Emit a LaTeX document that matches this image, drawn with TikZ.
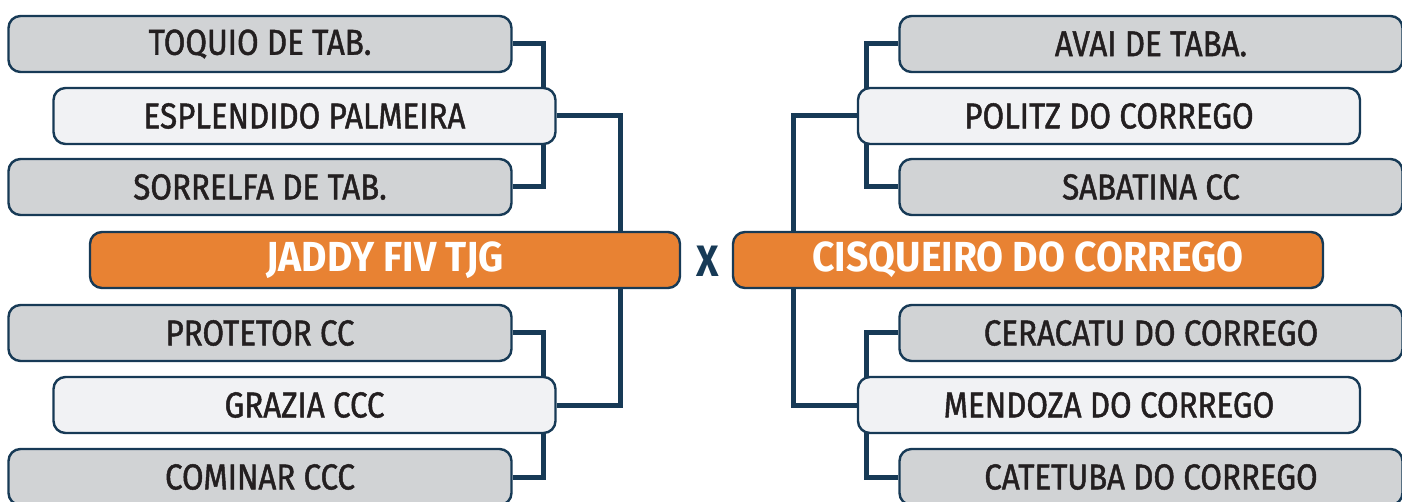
\documentclass[tikz,border=0pt]{standalone}
\usepackage{fontspec}
\setmainfont{Fira Sans}[FakeStretch=0.88]
\newfontfamily\teamfont{Fira Sans}[FakeStretch=0.87,FakeBold=1.3]
\newfontfamily\finalfont{Fira Sans Bold}[FakeStretch=0.93]
\usetikzlibrary{positioning}
\definecolor{navy}{HTML}{173A56}
\definecolor{boxgray}{HTML}{D1D3D5}
\definecolor{boxlight}{HTML}{F1F2F4}
\definecolor{orng}{HTML}{E88233}
\definecolor{txt}{HTML}{231F20}
\pgfdeclarelayer{background}
\pgfsetlayers{background,main}
\tikzset{
  team/.style={draw=navy,line width=2.4pt,rounded corners=12pt,minimum height=56pt,
    inner sep=0pt,text=txt,font=\teamfont\fontsize{36}{36}\selectfont},
  grayteam/.style={team,fill=boxgray,minimum width=503pt},
  lightteam/.style={team,fill=boxlight,minimum width=502pt},
  finalist/.style={draw=navy,line width=2.4pt,rounded corners=12pt,minimum height=56pt,
    minimum width=590pt,inner sep=0pt,fill=orng,text=white,
    font=\finalfont\fontsize{42}{42}\selectfont},
  link/.style={draw=navy,line width=5pt},
  versus/.style={text=navy,font=\bfseries\fontsize{44}{44}\selectfont}
}
\begin{document}
\begin{tikzpicture}[x=1pt,y=-1pt]
\useasboundingbox (0,0) rectangle (1402,502);
% left side
\node[grayteam]  (l1) at (260,44)  {TOQUIO DE TAB.};
\node[lightteam] (l2) at (304.5,116) {ESPLENDIDO PALMEIRA};
\node[grayteam]  (l3) at (260,187) {SORRELFA DE TAB.};
\node[finalist]  (lf) at (385,260) {JADDY FIV TJG};
\node[grayteam]  (l5) at (260,333) {PROTETOR CC};
\node[lightteam] (l6) at (304.5,405) {GRAZIA CCC};
\node[grayteam]  (l7) at (260,477) {COMINAR CCC};
% right side
\node[grayteam]  (r1) at (1151,44)  {AVAI DE TABA.};
\node[lightteam] (r2) at (1109,116) {POLITZ DO CORREGO};
\node[grayteam]  (r3) at (1151,187) {SABATINA CC};
\node[finalist]  (rf) at (1028,260) {CISQUEIRO DO CORREGO};
\node[grayteam]  (r5) at (1151,333) {CERACATU DO CORREGO};
\node[lightteam] (r6) at (1109,405) {MENDOZA DO CORREGO};
\node[grayteam]  (r7) at (1151,477) {CATETUBA DO CORREGO};
\node[versus] (x) at (708,261) {X};
\begin{pgfonlayer}{background}
\draw[link] (l1.east) -| ([xshift=31pt]l3.east) -- (l3.east);
\draw[link] (l2.east) -| ([xshift=64pt]l6.east) -- (l6.east);
\draw[link] (l5.east) -| ([xshift=31pt]l7.east) -- (l7.east);
\draw[link] (r1.west) -| ([xshift=-32pt]r3.west) -- (r3.west);
\draw[link] (r2.west) -| ([xshift=-63pt]r6.west) -- (r6.west);
\draw[link] (r5.west) -| ([xshift=-32pt]r7.west) -- (r7.west);
\end{pgfonlayer}
\end{tikzpicture}
\end{document}
